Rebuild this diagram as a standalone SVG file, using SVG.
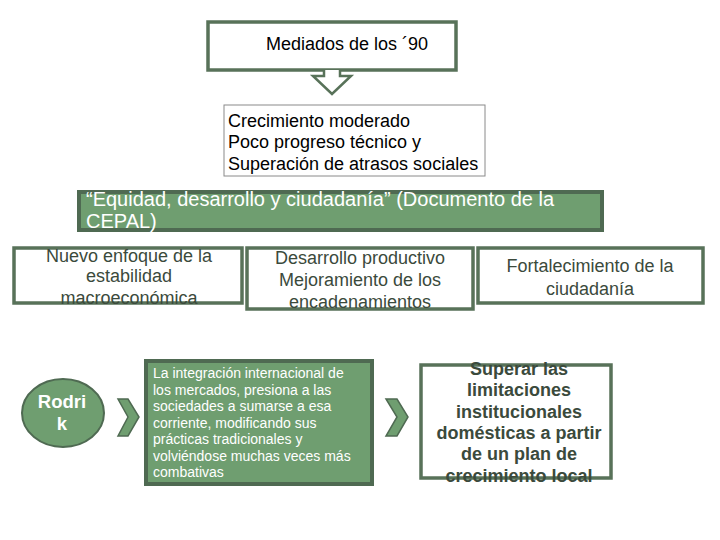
<svg xmlns="http://www.w3.org/2000/svg" width="720" height="540" viewBox="0 0 720 540">
<style>
.t{font-family:"Liberation Sans",Arial,sans-serif}
.wb{fill:#fff;stroke:#587259;stroke-width:3.5}
.gb{fill:#6f9e70;stroke:#4f6a52;stroke-width:4}
.dk{fill:#3b4a3c;font-size:18px;text-anchor:middle}
.bk{fill:#000;font-size:18px}
.wt{fill:#fff}
</style>
<rect width="720" height="540" fill="#fff"/>
<g id="top">
<rect class="wb" x="208" y="22" width="248" height="48"/>
<text class="t bk" x="347" y="50" text-anchor="middle" font-size="20">Mediados de los ´90</text>
</g>
<g id="connectors">
<path d="M324,70 L324,76 L313,76 L332,94 L351,76 L340,76 L340,70" fill="#fff" stroke="#587259" stroke-width="2.5" stroke-linejoin="miter"/>
<path d="M118,399 L128,399 L139,417 L128,436 L118,436 L128,417 Z" fill="#6f9e70" stroke="#4f6a52" stroke-width="1.5"/>
<path d="M386,399 L397,399 L408,417 L397,436 L386,436 L397,417 Z" fill="#6f9e70" stroke="#4f6a52" stroke-width="1.5"/>
</g>
<g id="crecimiento">
<rect x="224" y="105" width="261" height="71" fill="#fff" stroke="#8a8a8a" stroke-width="1"/>
<text class="t bk" x="228" y="127">Crecimiento moderado</text>
<text class="t bk" x="228" y="148">Poco progreso técnico y</text>
<text class="t bk" x="228" y="170">Superación de atrasos sociales</text>
</g>
<g id="cepal">
<rect class="gb" x="79" y="192" width="523" height="38"/>
<text class="t wt" x="86" y="206" font-size="20">“Equidad, desarrollo y ciudadanía” (Documento de la</text>
<text class="t wt" x="86" y="228" font-size="20">CEPAL)</text>
</g>
<g id="nuevo">
<rect class="wb" x="14" y="248" width="228" height="55"/>
<text class="t dk" x="129" y="262">Nuevo enfoque de la</text>
<text class="t dk" x="129" y="282">estabilidad</text>
<text class="t dk" x="129" y="304">macroeconómica</text>
</g>
<g id="desarrollo">
<rect class="wb" x="247" y="248" width="226" height="61"/>
<text class="t dk" x="360" y="264">Desarrollo productivo</text>
<text class="t dk" x="360" y="286">Mejoramiento de los</text>
<text class="t dk" x="360" y="308">encadenamientos</text>
</g>
<g id="fortalecimiento">
<rect class="wb" x="478" y="248" width="225" height="55"/>
<text class="t dk" x="590" y="272">Fortalecimiento de la</text>
<text class="t dk" x="590" y="295">ciudadanía</text>
</g>
<g id="rodrik">
<ellipse cx="63" cy="413" rx="41" ry="34" fill="#6f9e70" stroke="#4f6a52" stroke-width="2"/>
<text class="t wt" x="62" y="408" font-size="18.5" font-weight="bold" text-anchor="middle">Rodri</text>
<text class="t wt" x="62" y="430" font-size="18.5" font-weight="bold" text-anchor="middle">k</text>
</g>
<g id="integracion" class="t wt" font-size="14">
<rect class="gb" x="146" y="361" width="226" height="123" stroke-width="3"/>
<text x="153" y="378">La integración internacional de</text>
<text x="153" y="394.5">los mercados, presiona a las</text>
<text x="153" y="411">sociedades a sumarse a esa</text>
<text x="153" y="427.5">corriente, modificando sus</text>
<text x="153" y="444">prácticas tradicionales y</text>
<text x="153" y="460.5">volviéndose muchas veces más</text>
<text x="153" y="477">combativas</text>
</g>
<g id="superar">
<rect class="wb" x="421" y="365" width="190" height="113" stroke-width="3"/>
<text class="t dk" x="519" y="375" font-size="17" font-weight="bold">Superar las</text>
<text class="t dk" x="519" y="396" font-size="17" font-weight="bold">limitaciones</text>
<text class="t dk" x="519" y="418" font-size="17" font-weight="bold">institucionales</text>
<text class="t dk" x="519" y="439" font-size="17" font-weight="bold">domésticas a partir</text>
<text class="t dk" x="519" y="460" font-size="17" font-weight="bold">de un plan de</text>
<text class="t dk" x="519" y="482" font-size="17" font-weight="bold">crecimiento local</text>
</g>
</svg>
